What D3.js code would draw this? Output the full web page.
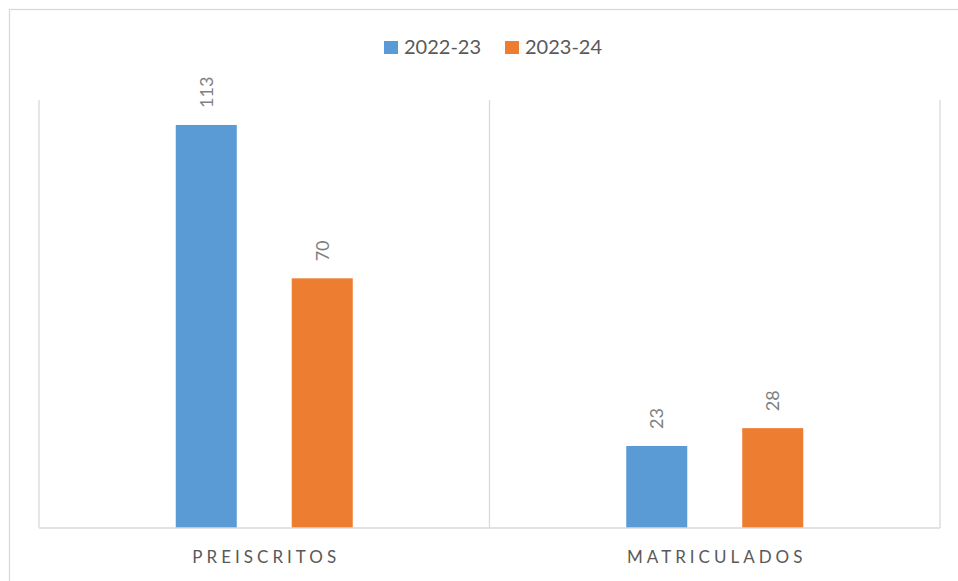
<!DOCTYPE html>
<html>
<head>
<meta charset="utf-8">
<script src="https://cdn.jsdelivr.net/npm/d3@7"></script>
<style>
  html, body { margin: 0; padding: 0; background: #fff; }
  svg { display: block; font-family: Lato, "Open Sans", sans-serif; }
</style>
</head>
<body>
<svg id="chart" width="958" height="581"></svg>
<script>
const categories = ["PREISCRITOS", "MATRICULADOS"];
const series = ["2022-23", "2023-24"];
const values2022 = [113, 23];
const values2023 = [70, 28];
const colors = ["#5b9bd5", "#ed7d31"];
const yMax = 120;

const seriesValues = [values2022, values2023];
const data = categories.map((c, i) => ({
  cat: c,
  vals: series.map((s, j) => ({ s, v: seriesValues[j][i], color: colors[j] }))
}));

const svg = d3.select("#chart");
const W = 958, H = 581;
const plot = { left: 39, right: 940, top: 100, bottom: 528 };

// outer border
svg.append("rect")
  .attr("x", 9.5).attr("y", 9.5)
  .attr("width", W).attr("height", H)
  .attr("fill", "#fff").attr("stroke", "#d9d9d9").attr("stroke-width", 1.3);

const x0 = d3.scaleBand().domain(categories).range([plot.left, plot.right]).padding(0);
const half = 88.5;
const x1 = d3.scaleBand().domain(series)
  .range([x0.bandwidth() / 2 - half, x0.bandwidth() / 2 + half])
  .paddingInner(0.474).paddingOuter(0);
const y = d3.scaleLinear().domain([0, yMax]).range([plot.bottom, plot.top]);

// vertical gridlines at category boundaries
const bounds = categories.map(c => x0(c)).concat([x0(categories[categories.length - 1]) + x0.bandwidth()]);
svg.append("g").selectAll("line").data(bounds).join("line")
  .attr("x1", d => d).attr("x2", d => d)
  .attr("y1", y(yMax)).attr("y2", y(0))
  .attr("stroke", "#d9d9d9").attr("stroke-width", 1.3);

// bars
const groups = svg.append("g").selectAll("g").data(data).join("g")
  .attr("transform", d => `translate(${x0(d.cat)},0)`);

groups.selectAll("rect").data(d => d.vals).join("rect")
  .attr("x", d => x1(d.s))
  .attr("y", d => y(d.v))
  .attr("width", x1.bandwidth())
  .attr("height", d => y(0) - y(d.v))
  .attr("fill", d => d.color);

// data labels (rotated)
groups.selectAll("text").data(d => d.vals).join("text")
  .attr("transform", d => `translate(${x1(d.s) + x1.bandwidth() / 2 + 6.5},${y(d.v) - 17}) rotate(-90)`)
  .attr("text-anchor", "start")
  .attr("font-size", 18)
  .attr("fill", "#808080")
  .text(d => d.v);

// baseline axis
svg.append("line")
  .attr("x1", plot.left).attr("x2", plot.right)
  .attr("y1", y(0)).attr("y2", y(0))
  .attr("stroke", "#d9d9d9").attr("stroke-width", 1.5);

// category labels
svg.append("g").selectAll("text").data(categories).join("text")
  .attr("x", d => x0(d) + x0.bandwidth() / 2 + 2)
  .attr("y", 563)
  .attr("text-anchor", "middle")
  .attr("font-size", 17)
  .attr("letter-spacing", "4px")
  .attr("fill", "#595959")
  .text(d => d);

// legend
const legendX = [384, 505];
const leg = svg.append("g").selectAll("g").data(series).join("g")
  .attr("transform", (d, i) => `translate(${legendX[i]},41)`);
leg.append("rect").attr("width", 14).attr("height", 13).attr("fill", (d, i) => colors[i]);
leg.append("text").attr("x", 20).attr("y", 13)
  .attr("font-size", 20).attr("fill", "#595959").text(d => d);
</script>
</body>
</html>
